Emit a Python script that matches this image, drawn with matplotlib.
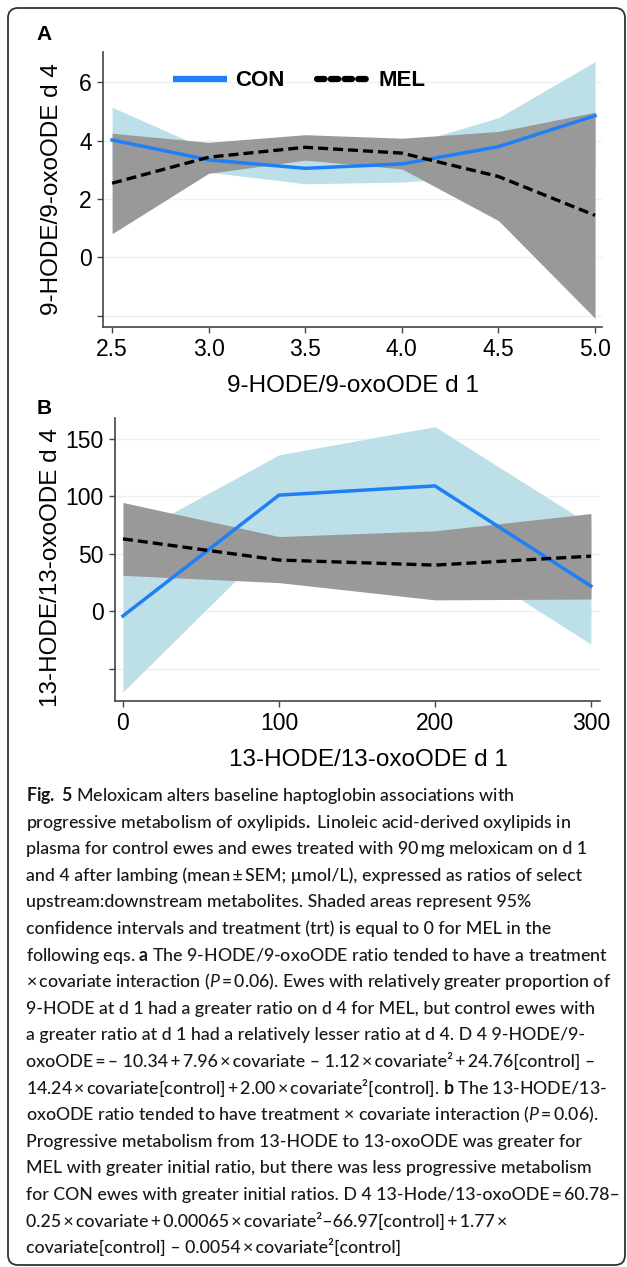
import matplotlib
matplotlib.use("Agg")
import matplotlib.pyplot as plt
from matplotlib.lines import Line2D
from matplotlib.patches import FancyBboxPatch

# panel A: 9-HODE/9-oxoODE
xa = [2.5, 3.0, 3.5, 4.0, 4.5, 5.0]
con_a = [4.02, 3.34, 3.05, 3.20, 3.79, 4.85]
con_a_lo = [2.90, 2.92, 2.52, 2.58, 2.80, 3.00]
con_a_hi = [5.14, 3.68, 3.60, 3.80, 4.78, 6.70]
mel_a = [2.54, 3.43, 3.77, 3.57, 2.77, 1.44]
mel_a_lo = [0.81, 2.88, 3.33, 3.03, 1.26, -2.08]
mel_a_hi = [4.25, 3.94, 4.20, 4.08, 4.31, 4.97]
yticks_a = [-2, 0, 2, 4, 6]
ylabels_a = ["", "0", "2", "4", "6"]

# panel B: 13-HODE/13-oxoODE
xb = [0, 100, 200, 300]
con_b = [-4, 101, 109, 22]
con_b_lo = [-70, 64, 58, -28.5]
con_b_hi = [62, 136, 160.5, 75]
mel_b = [63, 44.6, 40.2, 48]
mel_b_lo = [31.3, 25, 10, 10.7]
mel_b_hi = [94.6, 65, 70, 85]
yticks_b = [-50, 0, 50, 100, 150]
ylabels_b = ["", "0", "50", "100", "150"]

T = "\u2009"  # thin space, as in the typeset caption
caption = [
    r"$\mathbf{Fig.}$ $\mathbf{5}$ Meloxicam alters baseline haptoglobin associations with",
    r"progressive metabolism of oxylipids$\mathbf{.}$ Linoleic acid-derived oxylipids in",
    f"plasma for control ewes and ewes treated with 90{T}mg meloxicam on d 1",
    f"and 4 after lambing (mean{T}±{T}SEM; µmol/L), expressed as ratios of select",
    "upstream:downstream metabolites. Shaded areas represent 95%",
    "confidence intervals and treatment (trt) is equal to 0 for MEL in the",
    r"following eqs. $\mathbf{a}$ The 9-HODE/9-oxoODE ratio tended to have a treatment",
    f"×{T}covariate interaction (" + r"$\mathit{P}$" + f"{T}={T}0.06). Ewes with relatively greater proportion of",
    "9-HODE at d 1 had a greater ratio on d 4 for MEL, but control ewes with",
    "a greater ratio at d 1 had a relatively lesser ratio at d 4. D 4 9-HODE/9-",
    f"oxoODE{T}={T}– 10.34{T}+{T}7.96{T}×{T}covariate – 1.12{T}×{T}covariate²{T}+{T}24.76[control] –",
    f"14.24{T}×{T}covariate[control]{T}+{T}2.00{T}×{T}covariate²[control]. " + r"$\mathbf{b}$" + " The 13-HODE/13-",
    f"oxoODE ratio tended to have treatment × covariate interaction (" + r"$\mathit{P}$" + f"{T}={T}0.06).",
    "Progressive metabolism from 13-HODE to 13-oxoODE was greater for",
    "MEL with greater initial ratio, but there was less progressive metabolism",
    f"for CON ewes with greater initial ratios. D 4 13-Hode/13-oxoODE{T}={T}60.78–",
    f"0.25{T}×{T}covariate{T}+{T}0.00065{T}×{T}covariate²–66.97[control]{T}+{T}1.77{T}×",
    f"covariate[control] – 0.0054{T}×{T}covariate²[control]",
]

BLUE = "#1f7ff5"
LIGHTBLUE = "#bcdfe8"
GRAY = "#999999"
W, H = 627, 1267

plt.rcParams["font.family"] = ["Liberation Sans", "DejaVu Sans"]
plt.rcParams["mathtext.fontset"] = "custom"
plt.rcParams["mathtext.rm"] = "Lato"
plt.rcParams["mathtext.bf"] = "Lato:bold"
plt.rcParams["mathtext.it"] = "Lato:italic"

fig = plt.figure(figsize=(W / 100, H / 100), dpi=100)


def px_axes(left, top, right, bottom):
    return fig.add_axes([left / W, 1 - bottom / H, (right - left) / W, (bottom - top) / H])


def style(ax, yticks, ylabels):
    for side in ("top", "right"):
        ax.spines[side].set_visible(False)
    for side in ("left", "bottom"):
        ax.spines[side].set_color("#444444")
        ax.spines[side].set_linewidth(1.2)
    ax.set_yticks(yticks)
    ax.set_yticklabels(ylabels)
    ax.tick_params(labelsize=16.5, length=4, width=1, color="#444444", pad=4)
    ax.grid(axis="y", color="#eaf2f4", lw=1)
    ax.set_axisbelow(True)


def draw(ax, x, con, con_lo, con_hi, mel, mel_lo, mel_hi):
    ax.fill_between(x, con_lo, con_hi, color=LIGHTBLUE, lw=0, zorder=1)
    ax.fill_between(x, mel_lo, mel_hi, color=GRAY, lw=0, zorder=2)
    ax.plot(x, con, color=BLUE, lw=2.5, zorder=3)
    ax.plot(x, mel, color="black", lw=2.4, dashes=(3.0, 1.5), zorder=4)


axA = px_axes(103, 52, 602, 327)
draw(axA, xa, con_a, con_a_lo, con_a_hi, mel_a, mel_a_lo, mel_a_hi)
style(axA, yticks_a, ylabels_a)
axA.set_xlim(2.453, 5.036)
axA.set_ylim(-2.38, 7.03)
axA.set_xticks(xa)
axA.set_xticklabels([f"{v:.1f}" for v in xa])
axA.set_xlabel("9-HODE/9-oxoODE d 1", fontsize=17.5)
axA.set_ylabel("9-HODE/9-oxoODE d 4", fontsize=17.5)
axA.xaxis.set_label_coords(0.5, -0.175)
axA.yaxis.set_label_coords(-0.08, 0.5)

handles = [
    Line2D([], [], color=BLUE, lw=4.5, solid_capstyle="butt"),
    Line2D([], [], color="black", lw=4.5, dashes=(1.2, 1.0), dash_capstyle="round"),
]
axA.legend(handles, ["CON", "MEL"], ncol=2, frameon=False, loc="center left",
           bbox_to_anchor=(0.14, 0.895), borderpad=0, borderaxespad=0,
           handlelength=2.45, handletextpad=0.35, columnspacing=1.45,
           prop={"size": 16, "weight": "bold"})

axB = px_axes(115, 418, 600, 700.7)
draw(axB, xb, con_b, con_b_lo, con_b_hi, mel_b, mel_b_lo, mel_b_hi)
style(axB, yticks_b, ylabels_b)
axB.set_xlim(-5.1, 305.8)
axB.set_ylim(-77.6, 168)
axB.set_xticks(xb)
axB.set_xlabel("13-HODE/13-oxoODE d 1", fontsize=17.5)
axB.set_ylabel("13-HODE/13-oxoODE d 4", fontsize=17.5)
axB.xaxis.set_label_coords(0.522, -0.17)
axB.yaxis.set_label_coords(-0.11, 0.47)

fig.text(36 / W, 1 - 25 / H, "A", fontsize=15, fontweight="bold", va="top", ha="left")
fig.text(37 / W, 1 - 399 / H, "B", fontsize=15, fontweight="bold", va="top", ha="left")

for i, line in enumerate(caption):
    y = 801 + i * 26.6
    fig.text(26 / W, 1 - y / H, line, fontsize=12.8, family=["Lato", "DejaVu Sans"],
             fontweight="medium", color="#1a1718", va="baseline", ha="left")

frame = FancyBboxPatch((0.08, 0.02), 6.17, 12.57, boxstyle="round,pad=0,rounding_size=0.1",
                       transform=fig.dpi_scale_trans, fill=False, ec="#333333", lw=1.3)
fig.patches.append(frame)

fig.savefig("out.png", dpi=100, facecolor="white")
